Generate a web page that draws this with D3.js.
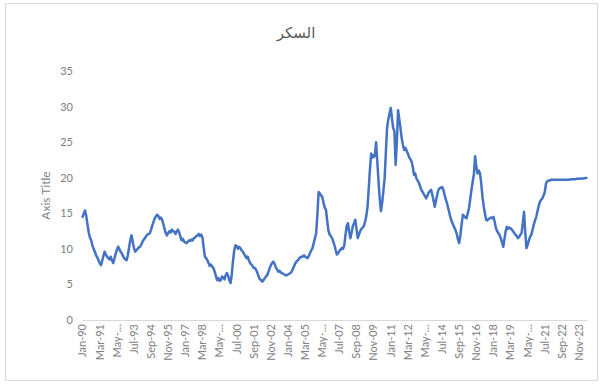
<!DOCTYPE html>
<html>
<head>
<meta charset="utf-8">
<script src="https://cdn.jsdelivr.net/npm/d3@7/dist/d3.min.js"></script>
<style>
  html, body { margin: 0; padding: 0; background: #fff; }
  svg { display: block; }
</style>
</head>
<body>
<svg id="chart" width="600" height="385"></svg>
<script>
// Monthly sugar price, Jan 1990 – May 2024 (one row per year, Jan..Dec)
const values1990s = [
  14.5, 15.0, 15.4, 14.6, 13.4, 12.3, 11.6, 11.2, 10.5, 10.0, 9.6, 9.1,
  8.8, 8.4, 8.0, 7.7, 8.3, 9.0, 9.6, 9.2, 8.9, 8.7, 8.5, 8.9,
  8.4, 8.0, 8.6, 9.3, 9.8, 10.3, 10.0, 9.6, 9.4, 9.0, 8.7, 8.5,
  8.4, 9.1, 10.2, 11.2, 11.9, 11.0, 10.1, 9.6, 9.8, 10.0, 10.2, 10.3,
  10.6, 11.0, 11.3, 11.5, 11.8, 12.0, 12.1, 12.2, 12.7, 13.3, 13.8, 14.3,
  14.6, 14.8, 14.6, 14.2, 14.4, 14.1, 13.5, 12.8, 12.2, 11.9, 12.2, 12.5,
  12.3, 12.7, 12.5, 12.4, 12.1, 12.5, 12.7, 12.3, 11.7, 11.2, 11.4, 11.0,
  10.9, 10.8, 11.0, 11.2, 11.1, 11.3, 11.2, 11.5, 11.6, 11.8, 11.9, 12.1,
  11.8, 12.0, 11.6, 10.2, 8.9, 8.7, 8.4, 8.0, 7.6, 7.8, 7.5, 7.3,
  6.8, 6.2, 5.6, 5.9, 5.5, 5.6, 6.1, 6.0, 5.7, 6.3, 6.6, 6.2
];
const values2000s = [
  5.6, 5.2, 6.4, 8.3, 9.8, 10.5, 10.4, 10.0, 10.3, 10.1, 9.8, 9.6,
  9.3, 9.0, 8.7, 8.9, 8.4, 8.0, 7.8, 7.6, 7.3, 7.3, 7.0, 6.6,
  6.1, 5.7, 5.6, 5.4, 5.6, 5.9, 6.1, 6.3, 6.8, 7.3, 7.7, 8.0,
  8.2, 7.9, 7.4, 7.1, 6.8, 6.9, 6.7, 6.6, 6.5, 6.4, 6.3, 6.3,
  6.4, 6.5, 6.6, 6.8, 7.2, 7.6, 8.0, 8.2, 8.4, 8.6, 8.8, 8.9,
  8.9, 9.1, 8.9, 8.8, 8.7, 9.0, 9.4, 9.8, 10.1, 10.8, 11.5, 12.2,
  14.8, 18.0, 17.8, 17.5, 17.3, 16.5, 15.8, 15.5, 14.0, 12.6, 12.0, 11.8,
  11.5, 11.0, 10.5, 9.8, 9.2, 9.4, 9.7, 9.9, 10.1, 10.0, 10.5, 12.0,
  13.2, 13.6, 12.4, 11.5, 12.3, 13.2, 13.6, 14.1, 12.8, 11.5, 12.0, 12.5,
  12.8, 13.0, 13.2, 13.8, 14.6, 15.9, 18.5, 21.2, 23.4, 22.8, 23.2, 23.0
];
const values2010s = [
  25.0, 22.3, 19.5, 17.0, 15.3, 16.5, 18.2, 19.9, 23.5, 27.0, 28.2, 29.0,
  29.8, 28.3, 27.0, 26.5, 21.8, 25.0, 29.5, 28.2, 26.9, 25.5, 24.6, 23.9,
  24.2, 23.8, 23.4, 22.9, 22.6, 22.3, 21.5, 20.4, 20.6, 19.9, 19.6, 19.3,
  18.8, 18.3, 18.0, 17.7, 17.4, 17.1, 17.5, 17.9, 18.1, 18.3, 17.6, 16.8,
  15.9, 16.8, 17.6, 18.3, 18.5, 18.6, 18.7, 18.3, 17.6, 17.0, 16.4, 15.7,
  15.0, 14.3, 13.8, 13.4, 13.0, 12.6, 12.1, 11.3, 10.8, 12.0, 13.5, 14.8,
  14.6, 14.4, 14.3, 15.0, 15.7, 17.0, 18.3, 19.4, 20.5, 23.0, 21.5, 20.6,
  21.0, 20.6, 19.2, 17.3, 16.0, 15.0, 14.1, 14.0, 14.2, 14.3, 14.4, 14.3,
  14.5, 13.8, 12.9, 12.5, 12.2, 11.9, 11.5, 10.9, 10.3, 11.4, 12.5, 13.1,
  12.8, 13.0, 12.9, 12.7, 12.5, 12.2, 12.0, 11.8, 11.5, 11.7, 12.0, 12.2
];
const values2020s = [
  13.6, 15.2, 12.3, 10.1, 10.6, 11.2, 11.7, 12.0, 12.7, 13.4, 14.0, 14.5,
  15.3, 16.0, 16.6, 16.9, 17.1, 17.5, 18.0, 19.2, 19.5, 19.6, 19.6, 19.7,
  19.7, 19.7, 19.7, 19.7, 19.7, 19.7, 19.7, 19.7, 19.7, 19.7, 19.7, 19.7,
  19.7, 19.7, 19.75, 19.75, 19.8, 19.8, 19.8, 19.8, 19.85, 19.85, 19.85, 19.9,
  19.9, 19.9, 19.9, 19.95, 19.95
];
const values = [...values1990s, ...values2000s, ...values2010s, ...values2020s];

const monthNames = ["Jan","Feb","Mar","Apr","May","Jun","Jul","Aug","Sep","Oct","Nov","Dec"];
const categories = values.map((_, i) =>
  monthNames[i % 12] + "-" + String((1990 + Math.floor(i / 12)) % 100).padStart(2, "0"));

// Category labels shown along the axis (every 14th month); long ones are clipped
const labelStep = 14;
const tickLabels = [
  "Jan-90","Mar-91","May-…","Jul-93","Sep-94","Nov-95","Jan-97","Mar-98","May-…","Jul-00",
  "Sep-01","Nov-02","Jan-04","Mar-05","May-…","Jul-07","Sep-08","Nov-09","Jan-11","Mar-12",
  "May-…","Jul-14","Sep-15","Nov-16","Jan-18","Mar-19","May-…","Jul-21","Sep-22","Nov-23"
];
const yTicks = [0, 5, 10, 15, 20, 25, 30, 35];
const chartTitle = "السكر";
const yTitle = "Axis Title";

const svg = d3.select("#chart");
const font = "Lato, 'Open Sans', sans-serif";

// chart frame
svg.append("rect")
  .attr("x", 5.5).attr("y", 3.5).attr("width", 592).attr("height", 377)
  .attr("fill", "#fff").attr("stroke", "#d9d9d9").attr("stroke-width", 1);

const plot = { left: 82, right: 587, top: 71, bottom: 320 };

const x = d3.scaleBand()
  .domain(categories)
  .range([plot.left, plot.right]);
const xc = c => x(c) + x.bandwidth() / 2;

const y = d3.scaleLinear()
  .domain([0, 35])
  .range([plot.bottom, plot.top]);

// title
svg.append("text")
  .attr("x", 296).attr("y", 38)
  .attr("text-anchor", "middle")
  .attr("font-family", "'Noto Sans', 'DejaVu Sans', sans-serif")
  .attr("font-size", 15)
  .attr("fill", "#595959")
  .text(chartTitle);

// y axis labels
const yAxis = d3.axisLeft(y).tickValues(yTicks).tickSize(0).tickPadding(9);
svg.append("g")
  .attr("transform", `translate(${plot.left},0)`)
  .call(yAxis)
  .call(g => g.select(".domain").remove())
  .call(g => g.selectAll("text")
    .attr("font-family", font).attr("font-size", 11).attr("fill", "#808080"));

// y axis title
svg.append("text")
  .attr("transform", `translate(50,${(plot.top + plot.bottom) / 2}) rotate(-90)`)
  .attr("text-anchor", "middle")
  .attr("font-family", font)
  .attr("font-size", 12)
  .attr("fill", "#7f7f7f")
  .text(yTitle);

// x axis
const tickCats = tickLabels.map((_, k) => categories[k * labelStep]);
const xAxis = d3.axisBottom(x)
  .tickValues(tickCats)
  .tickSize(0)
  .tickFormat((d, k) => tickLabels[k]);
svg.append("g")
  .attr("transform", `translate(0,${plot.bottom})`)
  .call(xAxis)
  .call(g => g.select(".domain").attr("stroke", "#d9d9d9").attr("stroke-width", 1))
  .call(g => g.selectAll("text")
    .attr("font-family", font).attr("font-size", 11).attr("fill", "#808080")
    .attr("text-anchor", "end")
    .attr("transform", "rotate(-90)")
    .attr("x", -4).attr("y", 0).attr("dy", "0.35em"));

// price line
const line = d3.line()
  .x((d, i) => xc(categories[i]))
  .y(d => y(d))
  .curve(d3.curveLinear);

svg.append("path")
  .datum(values)
  .attr("d", line)
  .attr("fill", "none")
  .attr("stroke", "#4472c4")
  .attr("stroke-width", 2.5)
  .attr("stroke-linejoin", "round")
  .attr("stroke-linecap", "round");
</script>
</body>
</html>
